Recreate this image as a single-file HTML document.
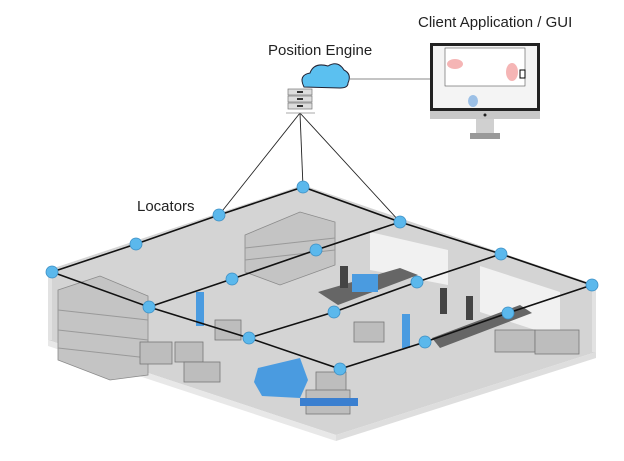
<!DOCTYPE html>
<html><head><style>
body{margin:0;background:#fff;}
svg{display:block;}
text{font-family:"Liberation Sans",sans-serif;fill:#222;}
</style></head><body>
<svg width="624" height="461" viewBox="0 0 624 461" xmlns="http://www.w3.org/2000/svg">
<!-- floor -->
<polygon points="48,270 303,185 596,285 596,352 336,435 48,340" fill="#d4d4d4"/>
<polygon points="48,340 336,435 336,441 48,346" fill="#e8e8e8"/>
<polygon points="336,435 596,352 596,358 336,441" fill="#dedede"/>
<polygon points="48,272 52,272 52,340 48,340" fill="#e2e2e2"/>
<polygon points="592,285 596,285 596,352 592,352" fill="#e2e2e2"/>
<!-- white walls -->
<polygon points="370,232 448,250 448,285 370,270" fill="#f1f1f1"/>
<polygon points="480,266 560,292 560,338 480,312" fill="#f1f1f1"/>
<!-- shelves -->
<g fill="#c4c4c4" stroke="#8a8a8a" stroke-width="0.8">
<polygon points="245,235 300,212 335,222 335,265 280,285 245,272"/>
<polygon points="58,290 100,276 148,296 148,375 110,380 58,360"/>
</g>
<g stroke="#999" stroke-width="1">
<line x1="245" y1="248" x2="335" y2="238"/><line x1="245" y1="260" x2="335" y2="250"/>
<line x1="58" y1="310" x2="148" y2="320"/><line x1="58" y1="330" x2="148" y2="340"/><line x1="58" y1="348" x2="148" y2="358"/>
</g>
<!-- boxes -->
<g fill="#bdbdbd" stroke="#777" stroke-width="0.8">
<rect x="140" y="342" width="32" height="22"/><rect x="175" y="342" width="28" height="20"/>
<rect x="184" y="362" width="36" height="20"/><rect x="215" y="320" width="26" height="20"/>
<rect x="354" y="322" width="30" height="20"/>
<rect x="495" y="330" width="40" height="22"/><rect x="535" y="330" width="44" height="24"/>
<rect x="316" y="372" width="30" height="22"/><rect x="306" y="390" width="44" height="24"/>
</g>
<!-- conveyors -->
<polygon points="318,292 400,268 418,275 338,305" fill="#666"/>
<polygon points="432,338 520,305 532,313 440,348" fill="#666"/>
<!-- people dark -->
<g fill="#444"><rect x="340" y="266" width="8" height="22"/><rect x="440" y="288" width="7" height="26"/><rect x="466" y="296" width="7" height="24"/></g>
<!-- blue items -->
<g fill="#4a9be0">
<rect x="196" y="292" width="8" height="34"/><rect x="402" y="314" width="8" height="34"/>
<rect x="352" y="274" width="26" height="18"/>
<polygon points="258,368 300,358 308,380 300,398 262,396 254,382"/>
<rect x="300" y="398" width="58" height="8" fill="#3a7fd0"/>
</g>
<!-- locator grid -->
<g stroke="#111" stroke-width="1.6" fill="none">
<polyline points="52,272 136,244 219,215 303,187 400,222 501,254 592,285"/>
<polyline points="52,272 149,307 249,338 340,369 425,342 508,313 592,285"/>
<polyline points="149,307 232,279 316,250 400,222"/>
<polyline points="249,338 334,312 417,282 501,254"/>
</g>
<g stroke="#222" stroke-width="0.9">
<line x1="300" y1="113" x2="219" y2="215"/><line x1="300" y1="113" x2="303" y2="187"/><line x1="300" y1="113" x2="400" y2="222"/>
<line x1="350" y1="79" x2="430" y2="79" stroke="#888"/>
</g>
<g fill="#5bb8ec" stroke="#3d8fc4" stroke-width="0.8">
<circle cx="52" cy="272" r="6"/><circle cx="136" cy="244" r="6"/><circle cx="219" cy="215" r="6"/><circle cx="303" cy="187" r="6"/><circle cx="400" cy="222" r="6"/><circle cx="501" cy="254" r="6"/><circle cx="592" cy="285" r="6"/>
<circle cx="149" cy="307" r="6"/><circle cx="232" cy="279" r="6"/><circle cx="316" cy="250" r="6"/>
<circle cx="249" cy="338" r="6"/><circle cx="334" cy="312" r="6"/><circle cx="417" cy="282" r="6"/>
<circle cx="340" cy="369" r="6"/><circle cx="425" cy="342" r="6"/><circle cx="508" cy="313" r="6"/>
</g>
<!-- cloud -->
<path d="M304,87 Q298,75 310,73 Q314,62 328,66 Q338,60 344,70 Q352,74 348,83 Q348,88 340,88 Z" fill="#5bc0f0" stroke="#223" stroke-width="1"/>
<!-- server -->
<g fill="#ddd" stroke="#777" stroke-width="0.7">
<rect x="288" y="89" width="24" height="6"/><rect x="288" y="96" width="24" height="6"/><rect x="288" y="103" width="24" height="6"/>
</g>
<g fill="#333"><rect x="297" y="91" width="6" height="2"/><rect x="297" y="98" width="6" height="2"/><rect x="297" y="105" width="6" height="2"/></g>
<line x1="286" y1="113" x2="315" y2="113" stroke="#aaa"/>
<!-- monitor -->
<rect x="430" y="43" width="110" height="68" fill="#222"/>
<rect x="433" y="46" width="104" height="62" fill="#f4f4f4"/>
<rect x="445" y="48" width="80" height="38" fill="#fff" stroke="#555" stroke-width="0.6"/>
<ellipse cx="455" cy="64" rx="8" ry="5" fill="#f5b5b5"/><ellipse cx="512" cy="72" rx="6" ry="9" fill="#f5b5b5"/>
<rect x="520" y="70" width="5" height="8" fill="none" stroke="#000"/>
<ellipse cx="473" cy="101" rx="5" ry="6" fill="#9cc0e6"/>
<rect x="430" y="111" width="110" height="8" fill="#c8c8c8"/>
<circle cx="485" cy="115" r="1.5" fill="#222"/>
<rect x="476" y="119" width="18" height="14" fill="#d0d0d0"/>
<rect x="470" y="133" width="30" height="6" fill="#999"/>
<text x="268" y="55" font-size="15">Position Engine</text>
<text x="418" y="27" font-size="15">Client Application / GUI</text>
<text x="137" y="211" font-size="15">Locators</text>
</svg>
</body></html>
